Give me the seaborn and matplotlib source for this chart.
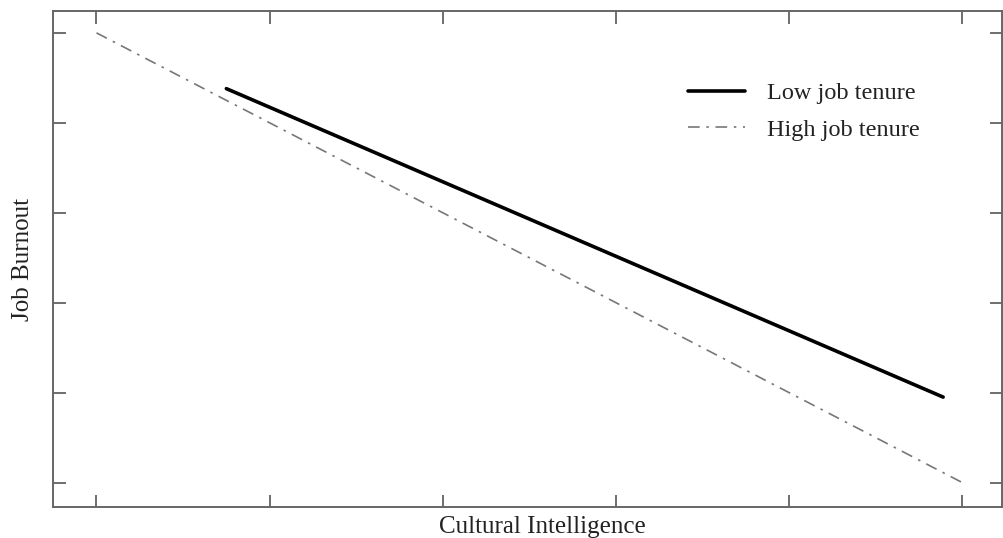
import matplotlib
matplotlib.use("Agg")
import matplotlib.pyplot as plt
import seaborn as sns
import pandas as pd

# simple slopes (axis units = tick steps)
x_low = [0.75, 4.89]
y_low = [4.38, 0.95]
x_high = [0.0, 5.0]
y_high = [5.0, 0.0]
series_names = ["Low job tenure", "High job tenure"]

df = pd.concat([
    pd.DataFrame({"x": x_low, "y": y_low, "group": series_names[0]}),
    pd.DataFrame({"x": x_high, "y": y_high, "group": series_names[1]}),
])

sns.set_style("white")
plt.rcParams['font.family'] = ['Liberation Serif', 'DejaVu Serif']

fig = plt.figure(figsize=(10.04, 5.38), dpi=100)
ax = fig.add_axes([0.053, 0.058, 0.945, 0.921])

sns.lineplot(data=df[df.group == series_names[0]], x="x", y="y", color="black",
             linewidth=2.6, ax=ax, label=series_names[0])
sns.lineplot(data=df[df.group == series_names[1]], x="x", y="y", color="#777777",
             linewidth=1.2, dashes=False, ax=ax, label=series_names[1])
ax.lines[1].set_linestyle((0, (7, 4, 1.5, 4)))

ax.set_xlim(-0.25, 5.23)
ax.set_ylim(-0.27, 5.24)
ax.set_xticks(range(6))
ax.set_yticks(range(6))
ax.set_xticklabels([])
ax.set_yticklabels([])
ax.tick_params(direction="in", length=9, width=1.2, color="#555555",
               top=True, right=True, bottom=True, left=True)
for s in ax.spines.values():
    s.set_color("#666666")
    s.set_linewidth(1.4)

ax.set_xlabel("Cultural Intelligence", fontsize=18, color="#222222", labelpad=3)
ax.xaxis.label.set_x(0.516)
ax.set_ylabel("Job Burnout", fontsize=18, color="#222222", labelpad=10)

leg = ax.legend(loc="upper left", bbox_to_anchor=(0.646, 0.901), frameon=False,
                fontsize=17.5, handlelength=2.35, handletextpad=0.9, labelspacing=0.6)
for t in leg.get_texts():
    t.set_color("#222222")

fig.savefig("out.png", dpi=100)
